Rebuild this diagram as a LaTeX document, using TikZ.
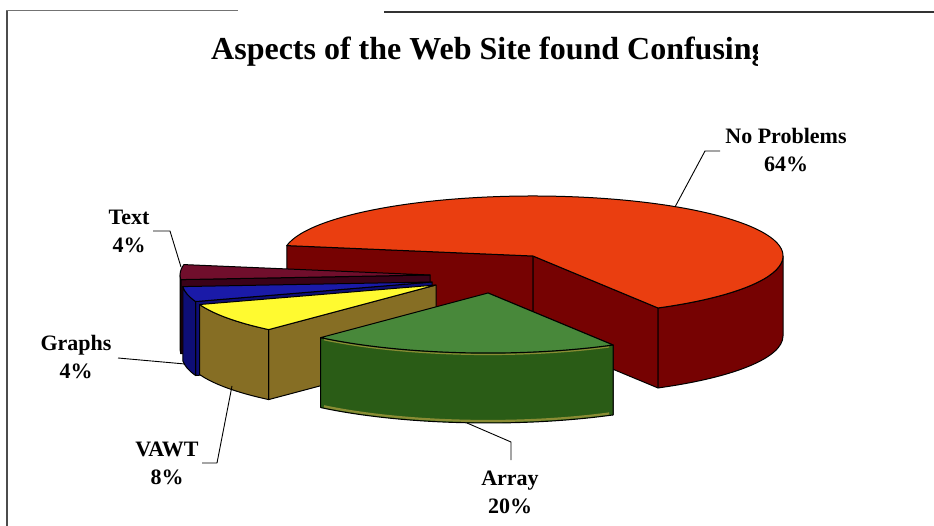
\documentclass[tikz,border=0pt]{standalone}
\usepackage{fontspec}
\setmainfont{Liberation Serif}
\usetikzlibrary{calc}

\definecolor{redtop}{RGB}{234,62,16}
\definecolor{redside}{RGB}{118,2,2}
\definecolor{greentop}{RGB}{72,136,58}
\definecolor{greenside}{RGB}{42,92,22}
\definecolor{greenrim}{RGB}{138,140,52}
\definecolor{yellowtop}{RGB}{255,250,48}
\definecolor{oliveside}{RGB}{134,110,36}
\definecolor{bluetop}{RGB}{26,26,168}
\definecolor{blueside}{RGB}{14,14,118}
\definecolor{maroontop}{RGB}{112,14,44}
\definecolor{maroonside}{RGB}{58,2,24}

\begin{document}
\begin{tikzpicture}[x=1pt, y=-1pt, line join=round,
    edge/.style={draw=black, line width=1pt},
    lbl/.style={font=\fontsize{22}{28}\selectfont\bfseries, align=center, inner sep=0pt},
    lead/.style={line width=0.9pt}]
    \useasboundingbox (0,0) rectangle (934,526);
    % Frame
    \draw[line width=1.2pt, black!55] (6,10.5) -- (238,10.5);
    \draw[line width=1.2pt, black!80] (384,12) -- (934,12);
    \draw[line width=1.2pt, black!70] (7,11) -- (7,526);
    % Title
    \begin{scope}
        \clip (200,20) rectangle (757,80);
        \node[lbl, font=\fontsize{32}{38}\selectfont\bfseries, anchor=base west] (title) at (211,60) {Aspects of the Web Site found Confusing};
    \end{scope}
    % Slice No Problems
    \coordinate (rc) at (533,256);
    \draw[edge, fill=redside] (rc) -- ([shift={(rc)}]-170:250 and 60) -- ++(0,80) -- ($(rc)+(0,80)$) -- cycle;
    \draw[edge, fill=redside] (rc) -- ([shift={(rc)}]60:250 and 60) -- ++(0,80) -- ($(rc)+(0,80)$) -- cycle;
    \draw[edge, fill=redside] ([shift={(rc)}]0:250 and 60) arc[start angle=0, end angle=60, x radius=250, y radius=60]
        -- ++(0,80) arc[start angle=60, end angle=0, x radius=250, y radius=60] -- cycle;
    \draw[edge, fill=redtop] (rc) -- ([shift={(rc)}]-170:250 and 60) arc[start angle=-170, end angle=60, x radius=250, y radius=60] -- cycle;
    % Slices Text, Graphs, VAWT, Array
    \foreach \cx/\cy/\a/\b/\o/\d/\ct/\cs in {430/275/175.6/190/180/74/maroontop/maroonside,
        432/282/161/175.6/175.6/74/bluetop/blueside,
        436/285/132/161/161/70/yellowtop/oliveside,
        488/293/60/132/132/70/greentop/greenside}
    {
        \coordinate (sc) at (\cx,\cy);
        \draw[edge, fill=\cs] (sc) -- ([shift={(sc)}]\a:250 and 60) -- ++(0,\d) -- ($(sc)+(0,\d)$) -- cycle;
        \draw[edge, fill=\cs] ([shift={(sc)}]\a:250 and 60) arc[start angle=\a, end angle=\o, x radius=250, y radius=60]
            -- ++(0,\d) arc[start angle=\o, end angle=\a, x radius=250, y radius=60] -- cycle;
        \draw[edge, fill=\ct] (sc) -- ([shift={(sc)}]\a:250 and 60) arc[start angle=\a, end angle=\b, x radius=250, y radius=60] -- cycle;
    }
    % Rim on the Array slice
    \draw[line width=2.2pt, greenrim] ([shift={(488,361)}]61:250 and 60) arc[start angle=61, end angle=131, x radius=250, y radius=60];
    \draw[line width=1.2pt, greenrim] ([shift={(488,294.5)}]61:250 and 60) arc[start angle=61, end angle=131, x radius=250, y radius=60];
    % Labels
    \node[lbl] (noprob) at (786,150) {No Problems\\64\%};
    \node[lbl] (text) at (129,231) {Text\\4\%};
    \node[lbl] (graphs) at (76,357) {Graphs\\4\%};
    \node[lbl] (vawt) at (167,463) {VAWT\\8\%};
    \node[lbl] (array) at (510,492) {Array\\20\%};
    % Leader lines
    \coordinate (noprob-a) at (720,151);
    \coordinate (noprob-b) at (705,151);
    \coordinate (noprob-t) at (675,207);
    \draw[lead] (noprob-a) -- (noprob-b) -- (noprob-t);
    \coordinate (text-a) at (153,231);
    \coordinate (text-b) at (170,231);
    \coordinate (text-t) at (181,267);
    \draw[lead] (text-a) -- (text-b) -- (text-t);
    \coordinate (graphs-a) at (118,358);
    \coordinate (graphs-t) at (185,364);
    \draw[lead] (graphs-a) -- (graphs-t);
    \coordinate (vawt-a) at (202,463);
    \coordinate (vawt-b) at (217,463);
    \coordinate (vawt-t) at (232,386);
    \draw[lead] (vawt-a) -- (vawt-b) -- (vawt-t);
    \coordinate (array-a) at (511,460);
    \coordinate (array-b) at (511,442);
    \coordinate (array-t) at (467,423);
    \draw[lead] (array-a) -- (array-b) -- (array-t);
\end{tikzpicture}
\end{document}
